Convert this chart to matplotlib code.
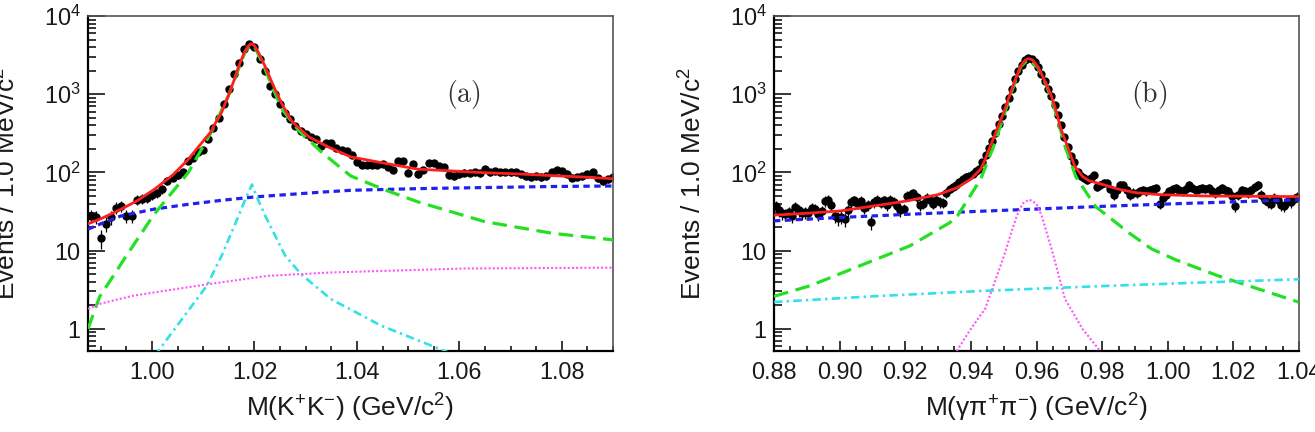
import numpy as np
import matplotlib
matplotlib.use("Agg")
import matplotlib.pyplot as plt
from matplotlib.ticker import MultipleLocator, LogLocator, FixedLocator, FixedFormatter, NullFormatter

plt.rcParams['font.family'] = ['Liberation Sans', 'DejaVu Sans']
plt.rcParams['mathtext.fontset'] = 'custom'
plt.rcParams['mathtext.rm'] = 'Liberation Sans'
plt.rcParams['mathtext.it'] = 'Liberation Sans:italic'
plt.rcParams['mathtext.bf'] = 'Liberation Sans:bold'

# ---------------- Panel (a): M(K+K-) ----------------
a_bin_start = 0.988
a_bin_width = 0.001
a_counts = [
    27.8, 27, 14.3, 22, 26.5, 35.5, 37, 28, 28, 45,
    46, 47, 51, 54, 61, 78, 86, 92, 101, 140,
    155, 180, 195, 265, 374, 500, 743, 1155, 1800, 2535,
    3750, 4350, 4050, 2800, 1980, 1275, 997, 743, 582, 478,
    393, 339, 307, 287, 265, 218, 236, 240, 207, 195,
    190, 168, 135, 125, 124, 126, 124, 128, 118, 108,
    140, 138, 99, 128, 95, 108, 131, 133, 120, 118,
    92, 90, 94, 99, 97, 100, 98, 110, 101, 103,
    101, 102, 100, 101, 94, 89, 88, 90, 88, 89,
    100, 106, 104, 96, 86, 87, 90, 95, 101, 84,
    78, 82, 88,
]
a_total_x = [0.9875, 0.990, 0.994, 0.997, 1.0005, 1.004, 1.007, 1.0095, 1.0115, 1.0123,
             1.0135, 1.0149, 1.016, 1.0169, 1.018, 1.0188, 1.0194, 1.0200, 1.0208, 1.0221,
             1.0237, 1.0254, 1.0273, 1.0306, 1.0345, 1.0388, 1.0454, 1.0519, 1.0584, 1.0649,
             1.0715, 1.078, 1.0845, 1.090]
a_total_y = [22, 25.5, 34, 43, 61, 92, 145, 230, 330, 420,
             570, 955, 1500, 2250, 3400, 4150, 4450, 4150, 3400, 2250,
             1275, 740, 450, 285, 210, 158, 131, 110, 104.5, 99,
             95.6, 91, 87, 83]
a_signal_x = [0.9875, 0.9898, 0.9924, 0.9950, 1.0003, 1.0071, 1.0117, 1.0149, 1.0170, 1.0182,
              1.0188, 1.0194, 1.0200, 1.0207, 1.0220, 1.0237, 1.0254, 1.0287, 1.0332, 1.0388,
              1.0454, 1.0519, 1.0649, 1.078, 1.090]
a_signal_y = [1.0, 2.6, 4.7, 8.6, 28.5, 100, 340, 950, 2200, 3500,
              4050, 4350, 4050, 3300, 2150, 1150, 640, 340, 179, 90,
              60, 42, 23.5, 16.7, 13.7]
a_bkg_x = [0.9875, 0.9907, 0.994, 1.0005, 1.007, 1.0136, 1.0201, 1.0332, 1.0388, 1.0519, 1.0649, 1.078, 1.090]
a_bkg_y = [18.8, 23, 27.8, 34, 39, 44, 48.6, 56, 59, 62, 64, 66, 67]
a_peak_x = [1.0005, 1.0107, 1.0136, 1.0169, 1.0182, 1.0195, 1.0207, 1.0221, 1.026, 1.0291,
            1.0349, 1.0447, 1.0565, 1.0585]
a_peak_y = [0.45, 3.55, 8.6, 27.8, 45, 70, 45, 27.8, 8.6, 5.0,
            2.4, 1.1, 0.54, 0.48]
a_flat_x = [0.9875, 0.990, 0.9963, 1.0107, 1.0225, 1.0349, 1.061, 1.090]
a_flat_y = [1.8, 2.1, 2.65, 3.7, 4.75, 5.25, 5.9, 6.05]

# ---------------- Panel (b): M(gamma pi+ pi-) ----------------
b_bin_start = 0.8805
b_bin_width = 0.001
b_counts = [
    37, 33, 30, 29, 31, 28, 36, 33, 30, 31,
    30, 35, 34, 29, 32, 43, 45, 38, 28, 26,
    27, 25, 33, 42, 44, 40, 43, 35, 38, 23,
    42, 45, 41, 44, 38, 45, 42, 37, 33, 34,
    50, 52, 54, 48, 38, 40, 47, 44, 40, 45,
    42, 41, 55, 62, 66, 68, 75, 82, 88, 90,
    96, 105, 112, 135, 165, 205, 250, 320, 420, 530,
    680, 900, 1180, 1550, 1980, 2380, 2700, 2880, 2830, 2600,
    2250, 1820, 1480, 1150, 950, 720, 540, 400, 280, 210,
    160, 137, 102, 90, 84, 80, 86, 93, 66, 70,
    73, 73, 62, 52, 60, 69, 69, 60, 52, 55,
    54, 58, 60, 57, 60, 62, 63, 40, 47, 52,
    57, 61, 63, 60, 57, 62, 69, 64, 60, 61,
    63, 62, 63, 58, 54, 59, 63, 60, 57, 50,
    37, 52, 60, 57, 54, 60, 66, 69, 52, 45,
    42, 40, 47, 45, 38, 37, 43, 42, 46, 49,
]
b_total_x = [0.880, 0.890, 0.9003, 0.910, 0.9206, 0.930, 0.9359, 0.940, 0.943, 0.9443,
             0.947, 0.9501, 0.9521, 0.9537, 0.9552, 0.9565, 0.9575, 0.9588, 0.9604, 0.9629,
             0.9646, 0.9662, 0.9672, 0.9687, 0.9702, 0.9717, 0.9741, 0.9761, 0.9802, 0.985,
             0.9903, 0.9975, 1.0107, 1.025, 1.040]
b_total_y = [28.4, 30, 32.2, 37, 43.2, 52, 64, 82, 110, 144,
             280, 600, 1050, 1600, 2290, 2700, 2850, 2750, 2250, 1380,
             930, 570, 385, 260, 176, 119, 88, 78, 70, 61,
             55, 52, 50, 49.5, 49]
b_signal_x = [0.880, 0.891, 0.9062, 0.9214, 0.9336, 0.9359, 0.943, 0.947, 0.9501, 0.9521,
              0.9552, 0.9575, 0.9604, 0.9629, 0.9646, 0.9662, 0.9687, 0.972, 0.978, 0.9883,
              0.9951, 1.0025, 1.0154, 1.0398]
b_signal_y = [2.6, 3.55, 6.4, 11.5, 22.8, 27.8, 82, 219, 540, 1000,
              2250, 2800, 2200, 1330, 880, 520, 215, 88, 36.6, 16.7,
              10.5, 7.6, 4.75, 2.2]
b_bkg_x = [0.880, 0.900, 0.920, 0.940, 0.960, 0.980, 1.0005, 1.020, 1.040]
b_bkg_y = [24, 26.5, 29, 31.5, 34, 36.8, 39.5, 42, 44.6]
b_flat_x = [0.880, 0.910, 0.9443, 0.980, 1.010, 1.040]
b_flat_y = [2.2, 2.6, 3.06, 3.52, 3.9, 4.3]
b_peak_x = [0.9357, 0.9400, 0.9443, 0.9475, 0.9501, 0.9525, 0.954, 0.9558, 0.9578, 0.9599,
            0.9616, 0.9635, 0.9646, 0.9687, 0.9740, 0.9794]
b_peak_y = [0.52, 1.0, 1.79, 4.2, 8.6, 18, 27.8, 40, 45, 40,
            27.8, 15, 10.5, 2.4, 1.0, 0.52]

a_xticks = [1.00, 1.02, 1.04, 1.06, 1.08]
b_xticks = [0.88, 0.90, 0.92, 0.94, 0.96, 0.98, 1.00, 1.02, 1.04]
y_ticks = [1, 10, 100, 1000, 10000]
y_ticklabels = ['1', '10', '10$^{2}$', '10$^{3}$', '10$^{4}$']

RED = '#ff1e1e'
GREEN = '#22e022'
BLUE = '#2020f0'
CYAN = '#33e0e8'
MAGENTA = '#ff55ff'

W, H = 1315, 432
fig = plt.figure(figsize=(W / 100, H / 100), dpi=100)
ax1 = fig.add_axes([88 / W, 1 - 351 / H, 525 / W, 335 / H])
ax2 = fig.add_axes([774 / W, 1 - 351 / H, 525 / W, 335 / H])


def style(ax, xlim, xticks, xlabel, tag):
    ax.set_yscale('log')
    ax.set_xlim(*xlim)
    ax.set_ylim(0.52, 1e4)
    ax.yaxis.set_major_locator(FixedLocator(y_ticks))
    ax.yaxis.set_major_formatter(FixedFormatter(y_ticklabels))
    ax.yaxis.set_minor_locator(LogLocator(base=10, subs=np.arange(2, 10), numticks=20))
    ax.yaxis.set_minor_formatter(NullFormatter())
    ax.xaxis.set_major_locator(FixedLocator(xticks))
    ax.set_xticklabels(['%.2f' % t for t in xticks])
    ax.xaxis.set_minor_locator(MultipleLocator(0.005))
    ax.tick_params(which='both', direction='in', top=False, right=False, width=1.1,
                   color='black', labelsize=16.8, labelcolor='#1a1a1a')
    ax.tick_params(axis='y', which='major', length=12, pad=5.5)
    ax.tick_params(axis='y', which='minor', length=6)
    ax.tick_params(axis='x', which='major', length=7.5, pad=7)
    ax.tick_params(axis='x', which='minor', length=3.8)
    for s in ('left', 'bottom'):
        ax.spines[s].set_linewidth(1.6)
        ax.spines[s].set_color('black')
    for s in ('top', 'right'):
        ax.spines[s].set_linewidth(1.2)
        ax.spines[s].set_color('#555555')
    ax.set_xlabel(xlabel, fontsize=19, color='#1a1a1a')
    ax.set_ylabel('Events / 1.0 MeV/c$^{2}$', fontsize=19, color='#1a1a1a')
    ax.yaxis.set_label_coords(-0.128, 0.5)
    ax.xaxis.set_label_coords(0.5, -0.122)
    ax.text(0.715, 0.767, r'$\mathrm{(%s)}$' % tag, math_fontfamily='cm', fontsize=20,
            ha='center', va='center', color='#333333', transform=ax.transAxes)


def draw(ax, start, width, counts, total, signal, bkg, peak, flat, peak_style, flat_style):
    counts = np.asarray(counts, dtype=float)
    x = start + width * np.arange(len(counts))
    ax.errorbar(x, counts, yerr=np.sqrt(counts), xerr=width / 2, fmt='o', color='black',
                ms=5.0, elinewidth=0.9, capsize=0, zorder=2)
    ax.plot(*bkg, color=BLUE, lw=2.3, dashes=(2.0, 1.4), zorder=3)
    ax.plot(*signal, color=GREEN, lw=2.3, dashes=(4.6, 2.4), zorder=3)
    ax.plot(*peak, **peak_style, zorder=3)
    ax.plot(*flat, **flat_style, zorder=3)
    ax.plot(*total, color=RED, lw=2.0, zorder=4)


cyan_style = dict(color=CYAN, lw=1.9, dashes=(3.2, 1.6, 0.9, 1.6))
mag_style = dict(color=MAGENTA, lw=1.5, dashes=(1.0, 1.0))

draw(ax1, a_bin_start, a_bin_width, a_counts, (a_total_x, a_total_y), (a_signal_x, a_signal_y),
     (a_bkg_x, a_bkg_y), (a_peak_x, a_peak_y), (a_flat_x, a_flat_y), cyan_style, mag_style)
draw(ax2, b_bin_start, b_bin_width, b_counts, (b_total_x, b_total_y), (b_signal_x, b_signal_y),
     (b_bkg_x, b_bkg_y), (b_peak_x, b_peak_y), (b_flat_x, b_flat_y), mag_style, cyan_style)

style(ax1, (0.9875, 1.090), a_xticks, 'M(K$^{+}$K$^{-}$) (GeV/c$^{2}$)', 'a')
style(ax2, (0.880, 1.040), b_xticks, 'M(γπ$^{+}$π$^{-}$) (GeV/c$^{2}$)', 'b')

fig.savefig('out.png', dpi=100, facecolor='white')
